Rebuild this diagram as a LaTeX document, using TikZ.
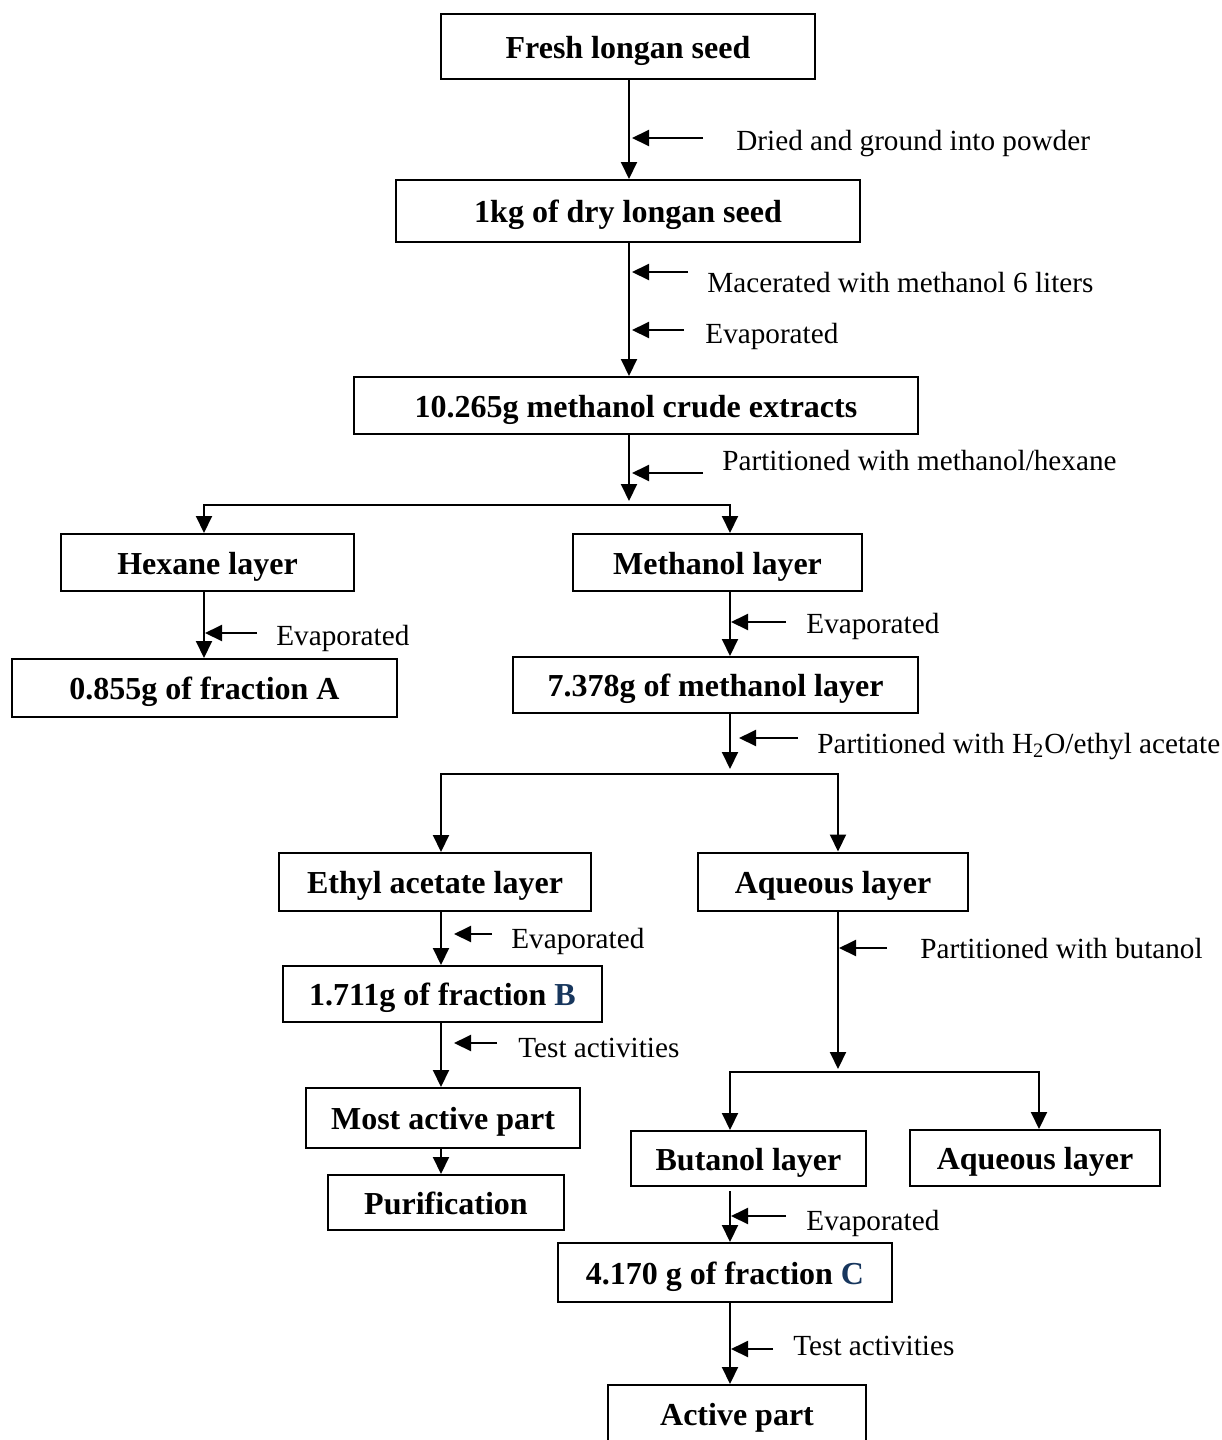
\documentclass[tikz,border=0pt]{standalone}
\usepackage{fontspec}
\setmainfont{Liberation Serif}
\usepackage{xcolor}
\usepackage{tikz}
\usetikzlibrary{arrows.meta, calc}

\begin{document}
\begin{tikzpicture}[x=0.5pt, y=-0.5pt,
        box/.style={draw, line width=1pt, inner sep=0pt, text height=14.5pt, text depth=3pt, font=\fontsize{16}{19}\selectfont\bfseries},
        note/.style={anchor=base west, inner sep=0pt, font=\fontsize{14.6}{17}\selectfont},
        flow/.style={->, line width=1pt},
        >={Triangle[width=8pt,length=8.5pt]}]

        % Define colour for the fraction letters
        \definecolor{fraccolor}{RGB}{23,54,93}

        \useasboundingbox (0,0) rectangle (1221,1440);

        % Columns of the arrows
        \coordinate (colmain) at (629,0);
        \coordinate (colhex) at (204,0);
        \coordinate (colmeth) at (730,0);
        \coordinate (colethyl) at (441,0);
        \coordinate (colaq) at (838,0);
        \coordinate (colaqb) at (1039,0);
        \coordinate (split1) at (629,505);
        \coordinate (split2) at (730,774);
        \coordinate (split3) at (838,1072);

        % Draw the boxes
        \node[box, minimum width=187pt, minimum height=32.5pt] (fresh) at (628,46.5) {Fresh longan seed};
        \node[box, minimum width=232pt, minimum height=31pt] (dry) at (628,211) {1kg of dry longan seed};
        \node[box, minimum width=282pt, minimum height=28.5pt] (crude) at (636,405.5) {10.265g methanol crude extracts};
        \node[box, minimum width=146.5pt, minimum height=28.5pt] (hexane) at (207.5,562.5) {Hexane layer};
        \node[box, minimum width=144.5pt, minimum height=28.5pt] (methanol) at (717.5,562.5) {Methanol layer};
        \node[box, minimum width=192.5pt, minimum height=29pt] (fracA) at (204.5,688) {0.855g of fraction A};
        \node[box, minimum width=202.5pt, minimum height=28pt] (methlayer) at (715.5,685) {7.378g of methanol layer};
        \node[box, minimum width=156pt, minimum height=29pt] (ethyl) at (435,882) {Ethyl acetate layer};
        \node[box, minimum width=135pt, minimum height=29pt] (aqueous) at (833,881.5) {Aqueous layer};
        \node[box, minimum width=159.5pt, minimum height=28pt] (fracB) at (442.5,994) {1.711g of fraction \textcolor{fraccolor}{B}};
        \node[box, minimum width=137pt, minimum height=30pt] (mostactive) at (443,1118) {Most active part};
        \node[box, minimum width=118pt, minimum height=27.5pt] (purif) at (446,1202.5) {Purification};
        \node[box, minimum width=117.5pt, minimum height=27.5pt] (butanol) at (748.5,1158.5) {Butanol layer};
        \node[box, minimum width=125pt, minimum height=28pt] (aqueousb) at (1035,1158) {Aqueous layer};
        \node[box, minimum width=167pt, minimum height=29.5pt] (fracC) at (725,1272.5) {4.170 g of fraction \textcolor{fraccolor}{C}};
        \node[box, minimum width=129pt, minimum height=29pt] (active) at (737,1414) {Active part};

        % Draw the main arrows
        \draw[flow] (fresh.south -| colmain) -- (dry.north -| colmain);
        \draw[flow] (dry.south -| colmain) -- (crude.north -| colmain);
        \draw[flow] (crude.south -| colmain) -- ($(split1)+(0,-4)$);
        \draw[flow] (split1) -| (hexane.north -| colhex);
        \draw[flow] (split1) -| (methanol.north -| colmeth);
        \draw[flow] (hexane.south -| colhex) -- (fracA.north -| colhex);
        \draw[flow] (methanol.south -| colmeth) -- (methlayer.north -| colmeth);
        \draw[flow] (methlayer.south -| colmeth) -- ($(split2)+(0,-5)$);
        \draw[flow] (split2) -| (ethyl.north -| colethyl);
        \draw[flow] (split2) -| (aqueous.north -| colaq);
        \draw[flow] (ethyl.south -| colethyl) -- (fracB.north -| colethyl);
        \draw[flow] (fracB.south -| colethyl) -- (mostactive.north -| colethyl);
        \draw[flow] (mostactive.south -| colethyl) -- (purif.north -| colethyl);
        \draw[flow] (aqueous.south -| colaq) -- ($(split3)+(0,-3)$);
        \draw[flow] (split3) -| (butanol.north -| colmeth);
        \draw[flow] (split3) -| (aqueousb.north -| colaqb);
        \draw[flow] ($(butanol.south -| colmeth)+(0,4)$) -- (fracC.north -| colmeth);
        \draw[flow] (fracC.south -| colmeth) -- (active.north -| colmeth);

        % Draw the side arrows and their labels
        \draw[flow] (703,138) -- (632,138);
        \node[note] (lbdried) at (736,150) {Dried and ground into powder};
        \draw[flow] (688,272) -- (632,272);
        \node[note] (lbmacer) at (707,292) {Macerated with methanol 6 liters};
        \draw[flow] (684,330) -- (632,330);
        \node[note] (lbevapa) at (705,343) {Evaporated};
        \draw[flow] (703,473) -- (632,473);
        \node[note] (lbhex) at (722,470) {Partitioned with methanol/hexane};
        \draw[flow] (257,633) -- (205,633);
        \node[note] (lbevapb) at (276,645) {Evaporated};
        \draw[flow] (786,622) -- (731,622);
        \node[note] (lbevapc) at (806,633) {Evaporated};
        \draw[flow] (798,738) -- (739,738);
        \node[note] (lbethyl) at (817,753) {Partitioned with H\textsubscript{2}O/ethyl acetate};
        \draw[flow] (492,934) -- (454,934);
        \node[note] (lbevapd) at (511,948) {Evaporated};
        \draw[flow] (497,1043) -- (454,1043);
        \node[note] (lbtesta) at (518,1057) {Test activities};
        \draw[flow] (887,948) -- (839,948);
        \node[note] (lbbut) at (920,958) {Partitioned with butanol};
        \draw[flow] (786,1216) -- (731,1216);
        \node[note] (lbevape) at (806,1230) {Evaporated};
        \draw[flow] (773,1349) -- (731,1349);
        \node[note] (lbtestb) at (793,1355) {Test activities};

    \end{tikzpicture}
\end{document}
